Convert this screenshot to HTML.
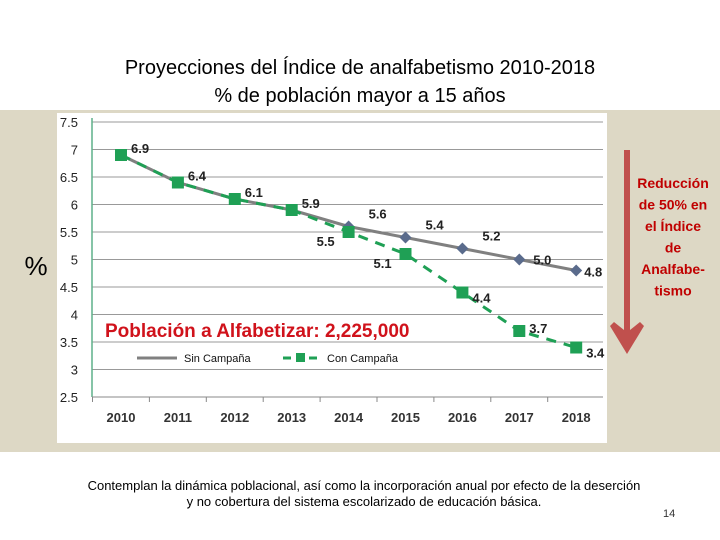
<!DOCTYPE html>
<html><head><meta charset="utf-8"><style>
body{margin:0;width:720px;height:540px;background:#fff;position:relative;overflow:hidden;font-family:"Liberation Sans",sans-serif}
.t{position:absolute;white-space:nowrap}
</style></head><body>
<div class="t" style="left:0;width:720px;top:54px;text-align:center;font-size:20px;line-height:28px;color:#000">Proyecciones del Índice de analfabetismo 2010-2018<br>% de población mayor a 15 años</div>
<div style="position:absolute;left:0;top:110px;width:720px;height:342px;background:#ddd8c5"></div>
<svg width="720" height="540" style="position:absolute;left:0;top:0" id="svg"></svg>
<div class="t" style="left:0;width:728px;top:478px;text-align:center;font-size:13px;line-height:16px;color:#000">Contemplan la dinámica poblacional, así como la incorporación anual por efecto de la deserción<br>y no cobertura del sistema escolarizado de educación básica.</div>
<div class="t" style="left:663px;top:508px;font-size:11px;color:#333">14</div>
<script>
const years=["2010","2011","2012","2013","2014","2015","2016","2017","2018"];
const sinCampana=[6.9,6.4,6.1,5.9,5.6,5.4,5.2,5.0,4.8];
const conCampana=[6.9,6.4,6.1,5.9,5.5,5.1,4.4,3.7,3.4];
const sinLabels=["","","","","5.6","5.4","5.2","5.0","4.8"];
const conLabels=["6.9","6.4","6.1","5.9","5.5","5.1","4.4","3.7","3.4"];
const yTicks=[7.5,7,6.5,6,5.5,5,4.5,4,3.5,3,2.5];
const yTickLabels=["7.5","7","6.5","6","5.5","5","4.5","4","3.5","3","2.5"];
const NS="http://www.w3.org/2000/svg",svg=document.getElementById('svg');
const X=i=>121+i*56.9, Y=v=>122+(7.5-v)*55;
function mk(t,a,p){const e=document.createElementNS(NS,t);for(const k in a)e.setAttribute(k,a[k]);(p||svg).appendChild(e);return e;}
let e=mk('rect',{x:57,y:113,width:550,height:330,fill:'#fff'});


yTicks.forEach((v,i)=>{
 if(v>2.5){let g=mk('line',{x1:92,x2:603,y1:Y(v),y2:Y(v),stroke:'#999','stroke-width':1});
 
 }
 let t=mk('text',{x:78,y:Y(v)+5,'text-anchor':'end','font-size':13,fill:'#222','font-family':'Liberation Sans, sans-serif'});t.textContent=yTickLabels[i];
 
 
});
e=mk('line',{x1:92,x2:92,y1:118,y2:397,stroke:'#5fb08a','stroke-width':1.5});


e=mk('line',{x1:92,x2:603,y1:397,y2:397,stroke:'#888','stroke-width':1});


years.forEach((y,i)=>{
 let tk=mk('line',{x1:X(i)-28.5,x2:X(i)-28.5,y1:397,y2:402,stroke:'#888'});
 
 
 let t=mk('text',{x:X(i),y:422,'text-anchor':'middle','font-size':13,'font-weight':'bold',fill:'#333','font-family':'Liberation Sans, sans-serif'});t.textContent=y;
 
 
});
e=mk('polyline',{points:sinCampana.map((v,i)=>X(i)+','+Y(v)).join(' '),fill:'none',stroke:'#808080','stroke-width':3});


e=mk('polyline',{points:conCampana.map((v,i)=>X(i)+','+Y(v)).join(' '),fill:'none',stroke:'#1fa055','stroke-width':3,'stroke-dasharray':'10,8'});


sinCampana.forEach((v,i)=>{
 let p=mk('path',{d:`M${X(i)},${Y(v)-6}l6,6l-6,6l-6,-6z`,fill:'#5a6b8c'});
 
 
 let dx=20,dy=-8;
 if(i==7){dx=14;dy=5;} if(i==8){dx=8;dy=6;}
 if(sinLabels[i]){let t=mk('text',{x:X(i)+dx,y:Y(v)+dy,'font-size':13,'font-weight':'bold',fill:'#222','font-family':'Liberation Sans, sans-serif'});t.textContent=sinLabels[i];
 
 }
});
conCampana.forEach((v,i)=>{
 let r=mk('rect',{x:X(i)-6,y:Y(v)-6,width:12,height:12,fill:'#1fa055'});
 
 
 let dx=10,dy=-2;
 if(i==4||i==5){dx=-32;dy=14;} else if(i>=6){dx=10;dy=10;} if(i==7)dy=2;
 let t=mk('text',{x:X(i)+dx,y:Y(v)+dy,'font-size':13,'font-weight':'bold',fill:'#222','font-family':'Liberation Sans, sans-serif'});t.textContent=conLabels[i];
 
 
});
e=mk('text',{x:105,y:337,'font-size':19,'font-weight':'bold',fill:'#d0121b','font-family':'Liberation Sans, sans-serif'});e.textContent="Población a Alfabetizar: 2,225,000";


e=mk('line',{x1:137,x2:177,y1:358,y2:358,stroke:'#808080','stroke-width':3});


e=mk('text',{x:184,y:362,'font-size':11,fill:'#111','font-family':'Liberation Sans, sans-serif'});e.textContent="Sin Campaña";


e=mk('line',{x1:283,x2:320,y1:358,y2:358,stroke:'#1fa055','stroke-width':3,'stroke-dasharray':'8,5'});


e=mk('rect',{x:296,y:353,width:9,height:9,fill:'#1fa055'});
e=mk('text',{x:327,y:362,'font-size':11,fill:'#111','font-family':'Liberation Sans, sans-serif'});e.textContent="Con Campaña";


e=mk('text',{x:36,y:275,'text-anchor':'middle','font-size':26,fill:'#000','font-family':'Liberation Sans, sans-serif'});e.textContent="%";


e=mk('path',{d:'M624,150h6v180l10,-8l4,4l-17,28l-17,-28l4,-4l10,8z',fill:'#c0504d'});


["Reducción","de 50% en","el Índice","de","Analfabe-","tismo"].forEach((s,i)=>{
 let t=mk('text',{x:673,y:188+i*21.5,'text-anchor':'middle','font-size':14,'font-weight':'bold',fill:'#c00000','font-family':'Liberation Sans, sans-serif'});t.textContent=s;
 
 
});
</script>
</body></html>
